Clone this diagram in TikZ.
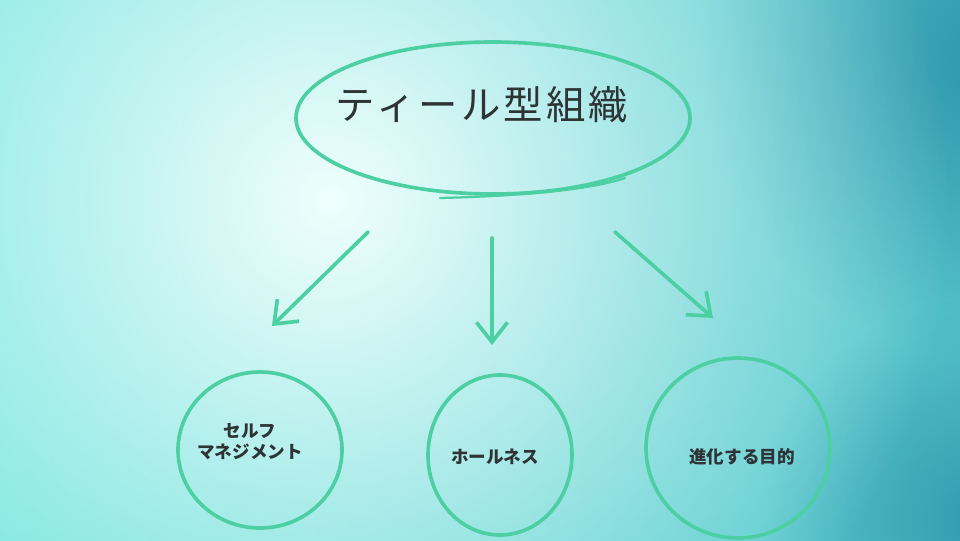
\documentclass[tikz,border=0pt]{standalone}
\usepackage{fontspec}
\newfontfamily\cjk{Noto Sans CJK JP}
\newfontfamily\cjktitle[LetterSpace=8]{Noto Sans CJK JP}
\usetikzlibrary{fadings,arrows.meta}
\definecolor{stroke}{HTML}{4CCFA2}
\definecolor{ink}{HTML}{2E3436}
\definecolor{leftbg}{HTML}{6BE3DC}
\definecolor{rightbg}{HTML}{58C6CC}
\definecolor{cornerbg}{HTML}{2A8FA8}
\definecolor{glowbg}{HTML}{F0FFFD}
\tikzfading[name=glow, inner color=transparent!0, outer color=transparent!100]
\tikzstyle{tsSketch} = [
    draw=stroke,
    line width=2.6pt,
    line cap=round
]
\tikzstyle{tsLabel} = [
    text=ink,
    font=\cjk\bfseries\fontsize{12.5}{15}\selectfont,
    align=center
]
\begin{document}
\begin{tikzpicture}[x=0.025cm, y=-0.025cm]

    \useasboundingbox (0,0) rectangle (960,540);
    \shade[left color=leftbg, right color=rightbg] (0,0) rectangle (960,540);
    \begin{scope}
        \clip (0,0) rectangle (960,540);
        \fill[cornerbg, path fading=glow, opacity=0.9] (1000,60) circle (300);
        \fill[cornerbg, path fading=glow, opacity=0.8] (980,520) circle (220);
        \fill[glowbg, path fading=glow] (330,200) circle (620);
    \end{scope}

    % title ellipse
    \node[text=ink, font=\cjktitle\fontsize{28}{32}\selectfont] (title) at (482,105) {ティール型組織};
    \draw[tsSketch] (493,118) ellipse (197 and 76);
    \draw[tsSketch, line width=1.6pt] (440,198) .. controls (520,196) and (590,190) .. (625,178);

    % circles
    \node[tsLabel] (self) at (250,442) {セルフ\\マネジメント};
    \node[tsLabel] (whole) at (495,457) {ホールネス};
    \node[tsLabel] (goal) at (742,457) {進化する目的};
    \draw[tsSketch] (260,450) ellipse (82 and 78);
    \draw[tsSketch] (500,455) ellipse (72 and 80);
    \draw[tsSketch] (738,448) ellipse (92 and 90);

    % arrows
    \coordinate (a1) at (368,232);
    \coordinate (a2) at (492,238);
    \coordinate (a3) at (615,232);
    \draw[tsSketch, -{Straight Barb[length=14pt, width=22pt]}] (a1) -- (272,326);
    \draw[tsSketch, -{Straight Barb[length=14pt, width=22pt]}] (a2) -- (492,345);
    \draw[tsSketch, -{Straight Barb[length=14pt, width=22pt]}] (a3) -- (713,318);

\end{tikzpicture}
\end{document}
